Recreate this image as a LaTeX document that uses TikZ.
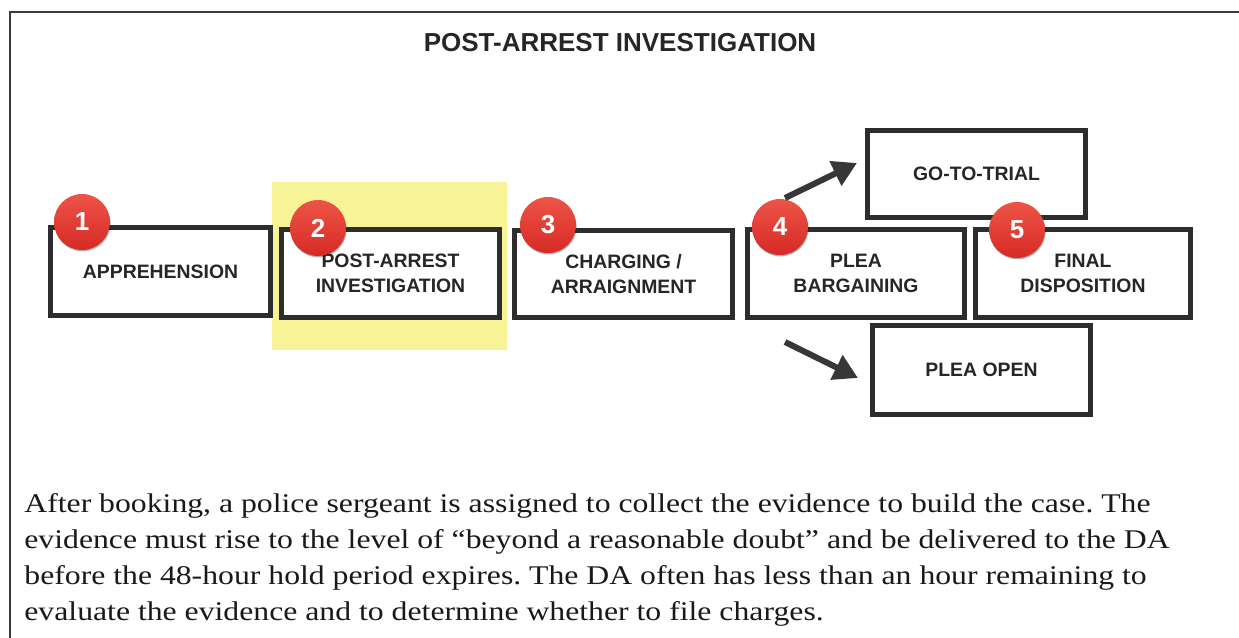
\documentclass[tikz,border=0pt]{standalone}
\usepackage{fontspec}
\setmainfont{Liberation Serif}
\setsansfont{Liberation Sans}
\newfontfamily\bodyfont[FakeStretch=1.175]{Liberation Serif}
\usetikzlibrary{arrows.meta,shadows}
\definecolor{boxline}{RGB}{45,45,45}
\definecolor{hl}{RGB}{246,244,150}
\definecolor{badgetop}{RGB}{238,84,72}
\definecolor{badgebot}{RGB}{214,42,36}
\definecolor{arrowc}{RGB}{55,55,55}
\definecolor{framec}{RGB}{60,60,60}
\definecolor{shadowc}{RGB}{90,100,140}
\frenchspacing
\begin{document}
\begin{tikzpicture}[x=0.5pt,y=-0.5pt,
  stage/.style={draw=boxline, line width=2.5pt, fill=white, align=center,
    font=\sffamily\bfseries\fontsize{9.7}{12.5}\selectfont, text=black!85, inner sep=0pt,
    drop shadow={shadow xshift=0.8pt, shadow yshift=-1.3pt, fill=shadowc, opacity=0.35}},
  badge/.style={circle, minimum size=28pt, inner sep=0pt, top color=badgetop, bottom color=badgebot,
    text=white, font=\sffamily\bfseries\fontsize{13}{13}\selectfont,
    drop shadow={shadow xshift=0.3pt, shadow yshift=-0.7pt, fill=black, opacity=0.3}},
  flow/.style={draw=arrowc, line width=3pt, -{Triangle[length=12pt,width=13pt]}},
  body/.style={anchor=base west, inner sep=0pt, font=\bodyfont\fontsize{13.5}{17}\selectfont, text=black!90}
]
\useasboundingbox (0,0) rectangle (1239,638);
\fill[white] (0,0) rectangle (1239,638);
% frame
\draw[framec, line width=1pt] (10,638) -- (10,12) -- (1239,12);
% title
\node[anchor=base, inner sep=0pt, font=\sffamily\bfseries\fontsize{13}{15}\selectfont, text=black!85] (title) at (620,51) {POST-ARREST INVESTIGATION};
% highlight
\fill[hl] (272,182) rectangle (507,350);
% boxes
\node[stage, minimum width=110pt, minimum height=44pt] (s1) at (160.5,271.5) {APPREHENSION};
\node[stage, minimum width=109pt, minimum height=44pt] (s2) at (390.5,273.5) {\raisebox{-2pt}{\parbox{100pt}{\centering POST-ARREST\\INVESTIGATION}}};
\node[stage, minimum width=109pt, minimum height=43.5pt] (s3) at (623.5,274) {\raisebox{-2pt}{\parbox{100pt}{\centering CHARGING /\\ARRAIGNMENT}}};
\node[stage, minimum width=109pt, minimum height=43.5pt] (trial) at (976.5,174) {GO-TO-TRIAL};
\node[stage, minimum width=109pt, minimum height=44.5pt] (open) at (981.5,370) {PLEA OPEN};
\node[stage, minimum width=108.5pt, minimum height=44pt] (s4) at (856,273.5) {\raisebox{-2pt}{\parbox{100pt}{\centering PLEA\\BARGAINING}}};
\node[stage, minimum width=107.5pt, minimum height=44pt] (s5) at (1083,273.5) {\raisebox{-2pt}{\parbox{100pt}{\centering FINAL\\DISPOSITION}}};
% badges
\node[badge] (b1) at (82,222) {1};
\node[badge] (b2) at (318,228) {2};
\node[badge] (b3) at (548,225) {3};
\node[badge] (b4) at (780,227) {4};
\node[badge] (b5) at (1017,230) {5};
% arrows
\coordinate (upS) at (785,198);
\coordinate (upE) at (857,163);
\coordinate (dnS) at (785,342);
\coordinate (dnE) at (858,378);
\draw[flow] (upS) -- (upE);
\draw[flow] (dnS) -- (dnE);
% body text
\node[body] (l1) at (24,512) {After booking, a police sergeant is assigned to collect the evidence to build the case. The};
\node[body] (l2) at (24,548) {evidence must rise to the level of “beyond a reasonable doubt” and be delivered to the DA};
\node[body] (l3) at (24,584) {before the 48-hour hold period expires. The DA often has less than an hour remaining to};
\node[body] (l4) at (24,620) {evaluate the evidence and to determine whether to file charges.};
\end{tikzpicture}
\end{document}
